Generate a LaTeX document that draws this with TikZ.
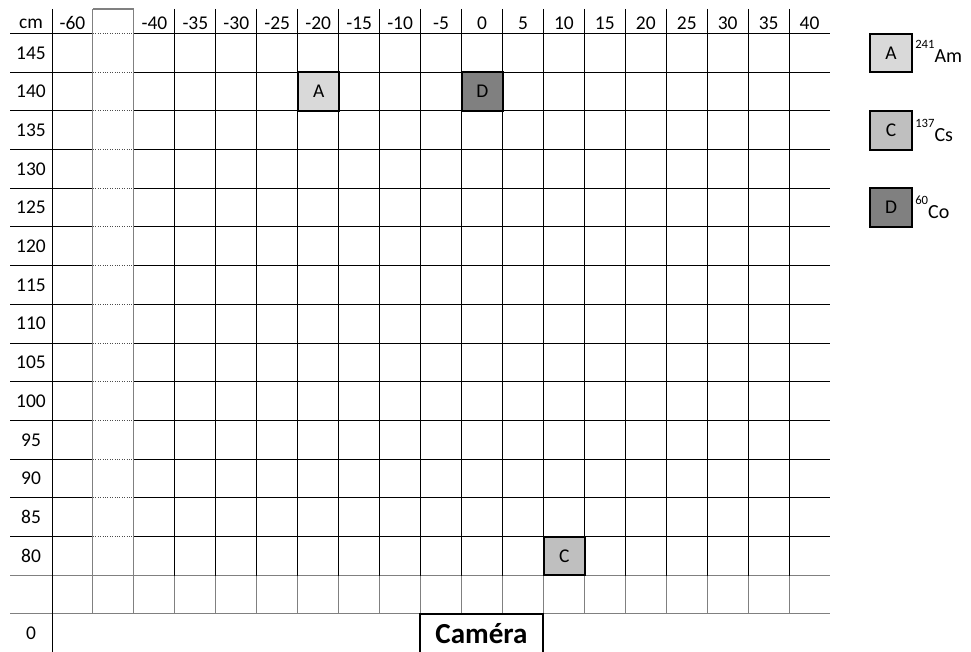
\documentclass[tikz,border=0pt]{standalone}
\usepackage{fontspec}
\setmainfont{Carlito}
\definecolor{fillA}{HTML}{D9D9D9}
\definecolor{fillC}{HTML}{BFBFBF}
\definecolor{fillD}{HTML}{808080}
\definecolor{gridgray}{HTML}{808080}
\tikzset{
  lab/.style={inner sep=0pt, font=\fontsize{14.6}{17}\selectfont},
  blackline/.style={draw=black, line width=0.8pt},
  grayline/.style={draw=gridgray, line width=0.9pt},
  graythick/.style={draw=gridgray, line width=1.3pt},
  dotline/.style={draw=black!70, line width=0.8pt, densely dotted},
  srcbox/.style={draw=black, line width=1.5pt, minimum width=30.75pt, minimum height=29pt, inner sep=0pt, font=\fontsize{14.6}{17}\selectfont},
  legtext/.style={inner sep=0pt, anchor=base west, font=\fontsize{15}{17}\selectfont}
}
\newcommand{\supnum}[1]{\raisebox{11pt}{\fontsize{9.5}{10}\selectfont #1}}
\def\skiplab{x}
\begin{document}
\begin{tikzpicture}[x=0.75pt,y=-0.75pt]
\useasboundingbox (0,0) rectangle (971,652);
% horizontal grid lines (rows 0..13 black, blank column dotted)
\foreach \k in {0,...,13}{
  \pgfmathsetmacro{\yy}{floor(33.5+38.7*\k)+0.5}
  \draw[blackline] (10,\yy) -- (93,\yy);
  \draw[dotline] (93,\yy) -- (134,\yy);
  \draw[blackline] (134,\yy) -- (830,\yy);
}
\foreach \k in {14,15}{
  \pgfmathsetmacro{\yy}{floor(33.5+38.7*\k)+0.5}
  \draw[grayline] (10,\yy) -- (830,\yy);
}
% top of blank column
\draw[grayline] (93,9) -- (134,9);
% vertical lines
\draw[blackline] (52.5,9) -- (52.5,652);
\foreach \i in {1,2}{
  \pgfmathsetmacro{\xx}{floor(52+40.95*\i)+0.5}
  \draw[graythick] (\xx,9) -- (\xx,614);
}
\foreach \i in {3,...,18}{
  \pgfmathsetmacro{\xx}{floor(52+40.95*\i)+0.5}
  \draw[blackline] (\xx,9) -- (\xx,575.5);
  \draw[grayline] (\xx,575.5) -- (\xx,614);
}
% header labels
\node[lab] (cm) at (31,23.5) {cm};
\foreach \lab [count=\i from 0] in {-60,x,-40,-35,-30,-25,-20,-15,-10,-5,0,5,10,15,20,25,30,35,40}{
  \ifx\lab\skiplab\else
  \node[lab] (hdr\i) at ({72.5+40.95*\i},23) {\lab};
  \fi
}
% row labels
\foreach \lab [count=\k from 0] in {145,140,135,130,125,120,115,110,105,100,95,90,85,80}{
  \node[lab] (row\k) at (31,{33.5+38.7*(\k+0.5)}) {\lab};
}
\node[lab] (rowzero) at (31,633) {0};
% sources in grid
\node[srcbox, fill=fillA] (A) at ({52.5+40.95*6.5},{33.5+38.7*1.5}) {A};
\node[srcbox, fill=fillD] (D) at ({52.5+40.95*10.5},{33.5+38.7*1.5}) {D};
\node[srcbox, fill=fillC] (C) at ({52.5+40.95*12.5},{33.5+38.7*13.5}) {C};
% camera
\draw[line width=1.5pt] (420,660) -- (420,613.5) -- (543,613.5) -- (543,660);
\node[inner sep=0pt, anchor=base, font=\fontsize{21.8}{24}\selectfont\bfseries] (cam) at (481.5,643) {Caméra};
% legend
\node[srcbox, minimum width=31.5pt, fill=fillA] (legA) at (891,{33.5+38.7*0.5}) {A};
\node[srcbox, minimum width=31.5pt, fill=fillC] (legC) at (891,{33.5+38.7*2.5}) {C};
\node[srcbox, minimum width=31.5pt, fill=fillD] (legD) at (891,{33.5+38.7*4.5}) {D};
\node[legtext] (legAt) at (915,63) {\supnum{241}Am};
\node[legtext] (legCt) at (915,142) {\supnum{137}Cs};
\node[legtext] (legDt) at (915,219) {\supnum{60}Co};
\end{tikzpicture}
\end{document}
